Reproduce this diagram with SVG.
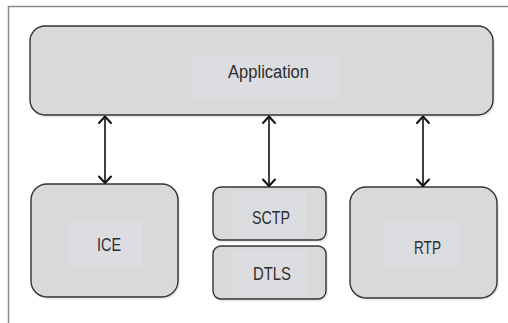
<svg xmlns="http://www.w3.org/2000/svg" width="508" height="323" viewBox="0 0 508 323">
<defs>
<style>
.box{fill:#d9d9d9;stroke:#333;stroke-width:1.4}
.shadow{fill:none;stroke:#000;stroke-opacity:0.08;stroke-width:2}
.lbl{fill:#dcdde0}
.txt{font-family:"Liberation Sans",Arial,sans-serif;font-size:18px;fill:#2e2e2e;text-anchor:middle}
.conn{stroke:#111;stroke-width:1.6;fill:none}
.head{stroke:#111;stroke-width:2;fill:none;stroke-linecap:round;stroke-linejoin:round}
</style>
</defs>
<rect width="508" height="323" fill="#fff"/>
<path d="M8.5 323 V6.5 H508" fill="none" stroke="#8a8a8a" stroke-width="1.5"/>
<g id="application">
<rect class="shadow" x="31" y="27.5" width="463" height="89" rx="15"/>
<rect class="box" x="30" y="26" width="463" height="89" rx="15"/>
<rect class="lbl" x="191" y="55" width="149" height="44"/>
<text class="txt" x="268.5" y="77.5" textLength="81" lengthAdjust="spacingAndGlyphs">Application</text>
</g>
<g id="ice">
<rect class="shadow" x="32" y="185.5" width="147" height="113" rx="16"/>
<rect class="box" x="31" y="184" width="147" height="113" rx="16"/>
<rect class="lbl" x="68" y="222" width="74" height="45"/>
<text class="txt" x="109" y="251" textLength="24" lengthAdjust="spacingAndGlyphs">ICE</text>
</g>
<g id="sctp">
<rect class="shadow" x="214" y="188.5" width="113" height="53" rx="8"/>
<rect class="box" x="213" y="187" width="113" height="53" rx="8"/>
<rect class="lbl" x="232" y="191" width="74" height="46"/>
<text class="txt" x="271" y="223.5" textLength="38" lengthAdjust="spacingAndGlyphs">SCTP</text>
</g>
<g id="dtls">
<rect class="shadow" x="214" y="247.5" width="113" height="53" rx="8"/>
<rect class="box" x="213" y="246" width="113" height="53" rx="8"/>
<rect class="lbl" x="233" y="250" width="74" height="45"/>
<text class="txt" x="272" y="279.5" textLength="38" lengthAdjust="spacingAndGlyphs">DTLS</text>
</g>
<g id="rtp">
<rect class="shadow" x="351" y="188.5" width="147" height="111" rx="16"/>
<rect class="box" x="350" y="187" width="147" height="111" rx="16"/>
<rect class="lbl" x="385" y="222" width="74" height="45"/>
<text class="txt" x="427.5" y="253.5" textLength="27" lengthAdjust="spacingAndGlyphs">RTP</text>
</g>
<g id="connectors">
<line class="conn" x1="105" y1="117" x2="105" y2="182"/>
<path class="head" d="M99 123 L105 116.5 L111 123 M99 176.5 L105 183 L111 176.5"/>
<line class="conn" x1="269" y1="117" x2="269" y2="185"/>
<path class="head" d="M263 123 L269 116.5 L275 123 M263 179.5 L269 186 L275 179.5"/>
<line class="conn" x1="423" y1="117" x2="423" y2="185"/>
<path class="head" d="M417 123 L423 116.5 L429 123 M417 179.5 L423 186 L429 179.5"/>
</g>
</svg>
